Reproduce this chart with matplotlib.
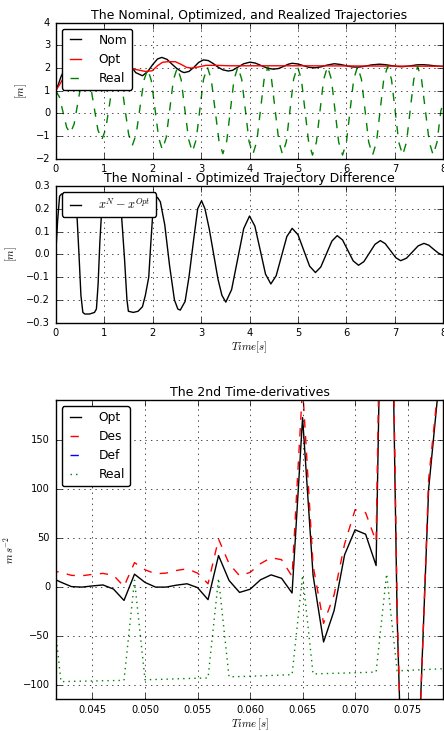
import matplotlib
matplotlib.use("Agg")
import matplotlib.pyplot as plt

plt.style.use("classic")
plt.rcParams["figure.facecolor"] = "white"
plt.rcParams["savefig.facecolor"] = "white"
plt.rcParams["mathtext.fontset"] = "cm"
plt.rcParams["font.family"] = ["DejaVu Sans"]

# --- top panel: trajectories (time in s, position in m) ---
t_nom = [0.0, 0.05, 0.11, 0.2, 0.4, 0.6, 0.85, 1.1, 1.35, 1.55, 1.65, 1.79, 1.9, 2.0,
         2.1, 2.19, 2.3, 2.4, 2.5, 2.6, 2.65, 2.75, 2.85, 2.95, 3.05, 3.15, 3.25, 3.35,
         3.45, 3.56, 3.65, 3.75, 3.88, 4.01, 4.12, 4.24, 4.36, 4.49, 4.6, 4.7, 4.8,
         4.88, 5.0, 5.12, 5.23, 5.35, 5.47, 5.6, 5.75, 5.87, 6.0, 6.12, 6.25, 6.38,
         6.52, 6.68, 6.8, 6.92, 7.05, 7.15, 7.3, 7.45, 7.57, 7.7, 7.85, 8.0]
x_nom = [1.0, 1.25, 1.63, 2.0, 2.55, 2.2, 1.6, 2.0, 2.55, 2.1, 1.8, 1.66, 1.85, 2.15,
         2.4, 2.47, 2.38, 2.17, 1.98, 1.84, 1.8, 1.85, 2.03, 2.25, 2.36, 2.33, 2.2, 2.04,
         1.92, 1.87, 1.9, 2.03, 2.19, 2.26, 2.22, 2.11, 2.0, 1.95, 1.98, 2.07, 2.17,
         2.21, 2.18, 2.1, 2.03, 2.01, 2.05, 2.13, 2.19, 2.16, 2.1, 2.05, 2.04, 2.08,
         2.14, 2.17, 2.15, 2.11, 2.07, 2.06, 2.09, 2.14, 2.15, 2.13, 2.09, 2.07]

t_opt = [0.0, 0.08, 0.2, 0.5, 1.0, 1.5, 1.67, 1.85, 1.99, 2.1, 2.2, 2.3, 2.47, 2.6,
         2.7, 2.8, 2.95, 3.1, 3.3, 3.6, 5.0, 8.0]
x_opt = [1.0, 1.27, 1.7, 2.0, 2.0, 2.0, 1.93, 1.85, 1.88, 2.1, 2.25, 2.28, 2.28, 2.15,
         2.03, 2.0, 2.05, 2.12, 2.12, 2.1, 2.1, 2.08]

t_real = [0.0, 0.075, 0.15, 0.225, 0.3, 0.38, 0.46, 0.54, 0.62, 0.7, 0.785, 0.87, 0.95,
          1.03, 1.11, 1.19, 1.27, 1.35, 1.425, 1.505, 1.58, 1.66, 1.74, 1.82, 1.9,
          1.975, 2.05, 2.125, 2.2, 2.28, 2.355, 2.43, 2.51, 2.59, 2.665, 2.745, 2.82,
          2.9, 2.975, 3.05, 3.13, 3.21, 3.29, 3.37, 3.45, 3.53, 3.605, 3.68, 3.76,
          3.84, 3.915, 3.99, 4.07, 4.15, 4.225, 4.3, 4.38, 4.455, 4.53, 4.605, 4.68,
          4.76, 4.835, 4.91, 4.99, 5.07, 5.145, 5.22, 5.3, 5.38, 5.455, 5.53, 5.61,
          5.69, 5.765, 5.84, 5.92, 6.0, 6.075, 6.15, 6.23, 6.31, 6.385, 6.46, 6.54,
          6.62, 6.695, 6.77, 6.85, 6.93, 7.005, 7.08, 7.16, 7.24, 7.315, 7.39, 7.47,
          7.55, 7.63, 7.71, 7.79, 7.87, 7.95, 8.0]
x_real = [1.0, 0.73, 0.06, -0.61, -0.88, -0.47, 0.51, 1.49, 1.9, 1.45, 0.37, -0.72, -1.17,
          -0.71, 0.39, 1.49, 1.95, 1.46, 0.27, -0.93, -1.42, -0.93, 0.27, 1.46, 1.95,
          1.43, 0.18, -1.08, -1.6, -1.07, 0.21, 1.49, 2.02, 1.48, 0.16, -1.16, -1.7,
          -1.15, 0.18, 1.5, 2.05, 1.49, 0.14, -1.22, -1.78, -1.22, 0.14, 1.49, 2.05,
          1.49, 0.13, -1.24, -1.8, -1.24, 0.13, 1.49, 2.05, 1.49, 0.13, -1.24, -1.8,
          -1.24, 0.14, 1.51, 2.07, 1.5, 0.12, -1.27, -1.84, -1.27, 0.12, 1.5, 2.07,
          1.5, 0.12, -1.27, -1.84, -1.27, 0.12, 1.5, 2.07, 1.5, 0.12, -1.27, -1.84,
          -1.27, 0.12, 1.5, 2.07, 1.5, 0.12, -1.27, -1.84, -1.27, 0.12, 1.5, 2.07,
          1.5, 0.12, -1.27, -1.84, -1.27, 0.12, 0.5]

# --- middle panel: nominal - optimized difference ---
t_diff = [0.0, 0.04, 0.08, 0.12, 0.2, 0.3, 0.4, 0.44, 0.48, 0.52, 0.56, 0.6, 0.7, 0.8,
          0.84, 0.875, 0.91, 0.95, 1.0, 1.1, 1.2, 1.3, 1.36, 1.42, 1.47, 1.5, 1.6, 1.7,
          1.79, 1.85, 1.92, 1.96, 2.0, 2.05, 2.1, 2.16, 2.25, 2.35, 2.45, 2.52, 2.57,
          2.67, 2.75, 2.85, 2.93, 3.01, 3.08, 3.17, 3.26, 3.35, 3.43, 3.51, 3.63, 3.755,
          3.88, 4.0, 4.11, 4.22, 4.33, 4.44, 4.55, 4.66, 4.77, 4.88, 5.0, 5.12, 5.24,
          5.36, 5.47, 5.585, 5.7, 5.81, 5.92, 6.03, 6.14, 6.25, 6.36, 6.475, 6.59, 6.7,
          6.8, 6.91, 7.02, 7.12, 7.24, 7.36, 7.48, 7.6, 7.7, 7.8, 7.9, 8.0]
x_diff = [0.0, 0.15, 0.255, 0.265, 0.265, 0.26, 0.22, 0.165, 0.0, -0.18, -0.255, -0.262,
          -0.262, -0.255, -0.24, -0.13, 0.05, 0.2, 0.255, 0.265, 0.26, 0.23, 0.165, -0.02,
          -0.2, -0.25, -0.255, -0.25, -0.23, -0.18, -0.1, 0.04, 0.17, 0.24, 0.25, 0.23,
          0.13, -0.05, -0.2, -0.24, -0.245, -0.207, -0.1, 0.07, 0.2, 0.235, 0.2, 0.11, 0.0,
          -0.11, -0.18, -0.21, -0.155, -0.021, 0.113, 0.168, 0.124, 0.019, -0.087, -0.13,
          -0.094, -0.008, 0.078, 0.114, 0.086, 0.017, -0.052, -0.08, -0.056, 0.001, 0.058,
          0.082, 0.063, 0.017, -0.029, -0.048, -0.032, 0.006, 0.044, 0.06, 0.047, 0.016,
          -0.015, -0.028, -0.017, 0.01, 0.037, 0.048, 0.04, 0.022, 0.005, -0.005]

# --- bottom panel: second time-derivatives ---
t_acc = [0.041, 0.042, 0.043, 0.044, 0.045, 0.046, 0.047, 0.048, 0.049, 0.050,
         0.051, 0.052, 0.053, 0.054, 0.055, 0.056, 0.057, 0.058, 0.059, 0.060,
         0.061, 0.062, 0.063, 0.064, 0.065, 0.066, 0.067, 0.068, 0.069, 0.070,
         0.071, 0.072, 0.073, 0.074, 0.075, 0.076, 0.077, 0.078, 0.079]
acc_opt = [10, 5, 0.5, 0, 1.2, 2.2, -2, -13.6, 13.2, 4.8, 0, 0, 2, 3.4, -0.5, -12.8,
           32.2, 6.8, -5.4, -2.2, 7.5, 12.5, 9, -6, 173, 12, -56, -24, 33, 58.5,
           54, 22, 650, -30, -400, -182, 100, 211, 320]
acc_des = [17, 15, 12, 11.6, 13, 14, 12, 0.7, 25, 17.7, 13.6, 14.3, 17, 18.7, 14.3, 3.4,
           49, 24, 11.6, 15, 24, 30, 28, 11, 205, 22, -37, -8, 44, 79,
           76, 46.5, 700, -20, -420, -190, 110, 215, 320]
acc_real = [3, -96.5, -96.2, -96, -95.8, -95.6, -95.4, -95.2, 7, -94.6, -94.3, -94,
            -93.6, -93.3, -93, -92.8, 9, -91.6, -91.3, -91, -90.6, -90.2, -89.8, -89.4,
            12, -88.6, -88.3, -88, -87.7, -87.4, -87.1, -86.7, 13.5, -85.5, -85, -84.5,
            -84, -83.5, -83]

fig = plt.figure(figsize=(4.44, 7.31), dpi=100)
tick_fs = 7.1
title_fs = 9.0
leg_fs = 8.8
lab_fs = 7.8
leg_kw = dict(loc="upper left", fontsize=leg_fs, handlelength=1.5,
              handletextpad=1.1, fancybox=True)

ax1 = fig.add_axes([0.1255, 0.7829, 0.8730, 0.1860])
ax1.plot(t_nom, x_nom, "k-", lw=1.0, label="Nom")
ax1.plot(t_opt, x_opt, "r-", lw=1.0, label="Opt")
ax1.plot(t_real, x_real, "g--", lw=1.0, label="Real")
ax1.set_xlim(0, 8)
ax1.set_ylim(-2, 4)
ax1.set_title("The Nominal, Optimized, and Realized Trajectories", fontsize=title_fs, pad=3)
ax1.set_ylabel("$[m]$", fontsize=lab_fs)
ax1.grid(True)
ax1.legend(**leg_kw)

ax2 = fig.add_axes([0.1255, 0.5586, 0.8730, 0.1870])
ax2.plot(t_diff, x_diff, "k-", lw=1.0, label="$x^N - x^{Opt}$")
ax2.set_xlim(0, 8)
ax2.set_ylim(-0.3, 0.3)
ax2.set_title("The Nominal - Optimized Trajectory Difference", fontsize=title_fs, pad=3)
ax2.set_ylabel("$[m]$", fontsize=lab_fs)
ax2.set_xlabel("$Time[s]$", fontsize=lab_fs, labelpad=1)
ax2.grid(True)
ax2.legend(**leg_kw)

ax3 = fig.add_axes([0.1255, 0.0434, 0.8730, 0.4094])
ax3.plot(t_acc, acc_opt, "k-", lw=1.0, label="Opt")
ax3.plot(t_acc, acc_des, "r--", lw=1.0, label="Des")
ax3.plot([], [], "b--", lw=1.0, label="Def")
ax3.plot(t_acc, acc_real, "g:", lw=1.0, label="Real")
ax3.set_xlim(0.0415, 0.0784)
ax3.set_ylim(-114.5, 191)
ax3.set_xticks([0.045, 0.050, 0.055, 0.060, 0.065, 0.070, 0.075])
ax3.set_title("The 2nd Time-derivatives", fontsize=title_fs, pad=3)
ax3.set_ylabel("$m\\,s^{-2}$", fontsize=lab_fs)
ax3.set_xlabel("$Time\\,[s]$", fontsize=lab_fs, labelpad=1)
ax3.grid(True)
ax3.legend(**leg_kw)

for ax in (ax1, ax2, ax3):
    ax.tick_params(labelsize=tick_fs)

fig.savefig("out.png", dpi=100)
